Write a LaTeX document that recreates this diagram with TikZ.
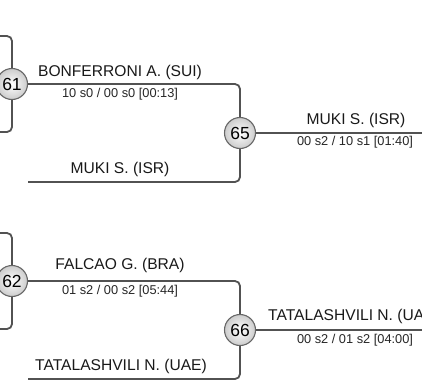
\documentclass[tikz,border=0pt]{standalone}
\usepackage{fontspec}
\setmainfont{Liberation Sans}
\begin{document}
\begin{tikzpicture}[x=1pt,y=-1pt,
  seed/.style={circle,draw=black!60,line width=1.1pt,inner sep=0pt,minimum size=31pt,
    shading=radial,inner color=white,outer color=black!20,font=\fontsize{17.5}{20}\selectfont},
  wire/.style={draw=black!68,line width=1.8pt,rounded corners=5pt},
  pname/.style={inner sep=0pt,font=\fontsize{15.6}{18}\selectfont,text=black!90},
  pscore/.style={inner sep=0pt,font=\fontsize{12.8}{15}\selectfont,text=black!85}]
\clip (0,0) rectangle (422,383);
\fill[white] (0,0) rectangle (422,383);
% top half
\node[seed] (n61) at (12,84) {61};
\node[seed] (n65) at (240,133) {65};
\coordinate (t61a) at (-5,36);
\coordinate (t61b) at (-5,132);
\coordinate (m65) at (28,182);
\coordinate (r65) at (440,133);
\draw[wire] (t61a) -| (n61.north);
\draw[wire] (t61b) -| (n61.south);
\draw[wire] (n61.east) -| (n65.north);
\draw[wire] (m65) -| (n65.south);
\draw[wire] (n65.east) -- (r65);
\node[pname] (a1) at (120,72) {BONFERRONI A. (SUI)};
\node[pscore] (a2) at (120,94) {10 s0 / 00 s0 [00:13]};
\node[pname] (a3) at (120,169) {MUKI S. (ISR)};
\node[pname] (a4) at (356,120) {MUKI S. (ISR)};
\node[pscore] (a5) at (355,142) {00 s2 / 10 s1 [01:40]};
% bottom half
\node[seed] (n62) at (12,281) {62};
\node[seed] (n66) at (240,330) {66};
\coordinate (t62a) at (-5,233);
\coordinate (t62b) at (-5,329);
\coordinate (m66) at (28,379);
\coordinate (r66) at (440,330);
\draw[wire] (t62a) -| (n62.north);
\draw[wire] (t62b) -| (n62.south);
\draw[wire] (n62.east) -| (n66.north);
\draw[wire] (m66) -| (n66.south);
\draw[wire] (n66.east) -- (r66);
\node[pname] (b1) at (120,265) {FALCAO G. (BRA)};
\node[pscore] (b2) at (120,291) {01 s2 / 00 s2 [05:44]};
\node[pname] (b3) at (121,366) {TATALASHVILI N. (UAE)};
\node[pname] (b4) at (354,316) {TATALASHVILI N. (UAE)};
\node[pscore] (b5) at (355,340) {00 s2 / 01 s2 [04:00]};
\end{tikzpicture}
\end{document}
